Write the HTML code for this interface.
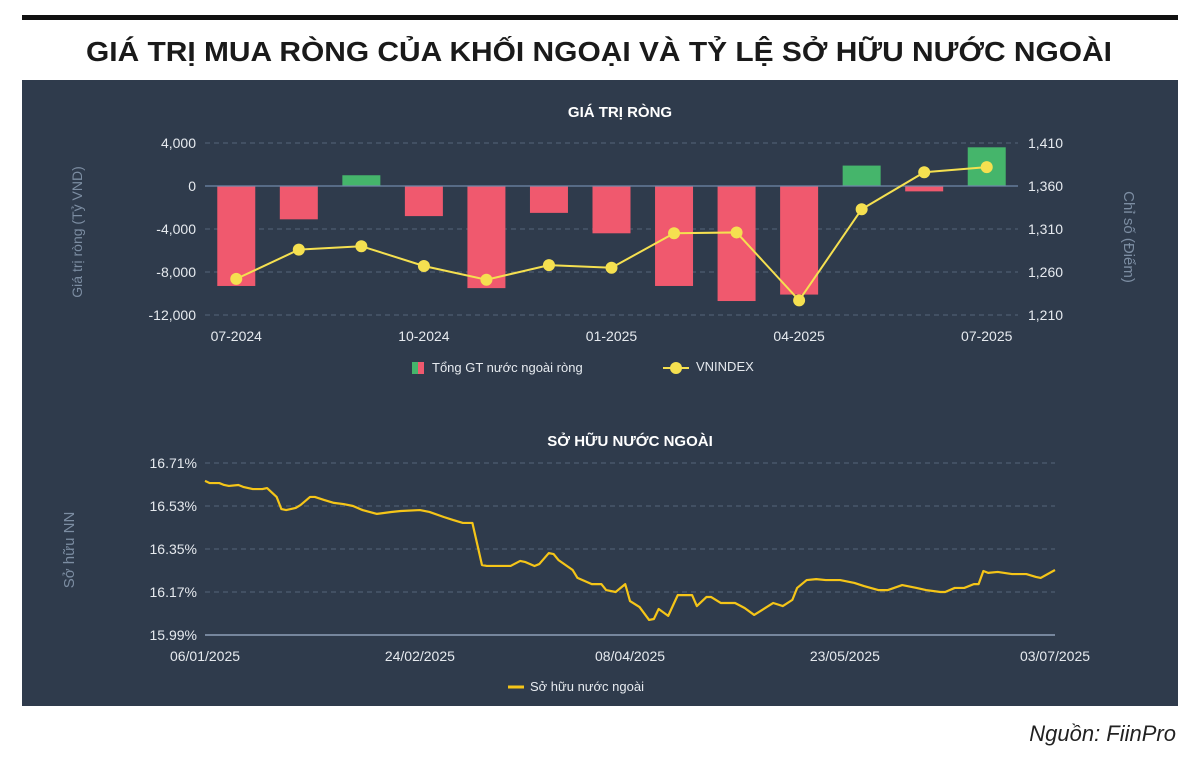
<!DOCTYPE html>
<html><head><meta charset="utf-8"><style>
html,body{margin:0;padding:0;background:#fff;}
svg{display:block;font-family:"Liberation Sans","DejaVu Sans",sans-serif;}
</style></head><body>
<svg id="root" width="1200" height="761" viewBox="0 0 1200 761" xmlns="http://www.w3.org/2000/svg">
<rect x="22" y="15" width="1156" height="5" fill="#111"/>
<text x="599" y="61" text-anchor="middle" font-size="28" font-weight="bold" fill="#1a1a1a" textLength="1026" lengthAdjust="spacingAndGlyphs">GIÁ TRỊ MUA RÒNG CỦA KHỐI NGOẠI VÀ TỶ LỆ SỞ HỮU NƯỚC NGOÀI</text>
<rect x="22" y="80" width="1156" height="626" fill="#2f3b4c"/>
<text x="620" y="117" text-anchor="middle" font-size="15" font-weight="bold" fill="#fff">GIÁ TRỊ RÒNG</text>
<text x="0" y="0" transform="translate(82,232) rotate(-90)" text-anchor="middle" font-size="14" fill="#7c8da2">Giá trị ròng (Tỷ VND)</text>
<text x="0" y="0" transform="translate(1124,237) rotate(90)" text-anchor="middle" font-size="15" fill="#7c8da2">Chỉ số (Điểm)</text>
<g id="topG"></g>
<g>
<rect x="412" y="362" width="6" height="12" fill="#45b56b"/>
<rect x="418" y="362" width="6" height="12" fill="#f0596e"/>
<text x="432" y="372" font-size="13" fill="#e6eaef">Tổng GT nước ngoài ròng</text>
<line x1="663" y1="368" x2="689" y2="368" stroke="#f5e050" stroke-width="2"/>
<circle cx="676" cy="368" r="6" fill="#f5e050"/>
<text x="696" y="371" font-size="13" fill="#e6eaef">VNINDEX</text>
</g>
<text x="630" y="446" text-anchor="middle" font-size="15" font-weight="bold" fill="#fff">SỞ HỮU NƯỚC NGOÀI</text>
<text x="0" y="0" transform="translate(74,550) rotate(-90)" text-anchor="middle" font-size="15" fill="#7c8da2">Sở hữu NN</text>
<g id="botG"></g>
<g>
<line x1="508" y1="687" x2="524" y2="687" stroke="#f5c518" stroke-width="3"/>
<text x="530" y="691" font-size="13" fill="#e6eaef">Sở hữu nước ngoài</text>
</g>
<text x="1176" y="741" text-anchor="end" font-size="22" font-style="italic" fill="#222">Nguồn: FiinPro</text>
</svg>
<script>
const months = ["07-2024","08-2024","09-2024","10-2024","11-2024","12-2024","01-2025","02-2025","03-2025","04-2025","05-2025","06-2025","07-2025"];
const netValues = [-9300,-3100,1000,-2800,-9500,-2500,-4400,-9300,-10700,-10100,1900,-500,3600];
const vnindex = [1252,1286,1290,1267,1251,1268,1265,1305,1306,1227,1333,1376,1382];
const leftTicks = [4000,0,-4000,-8000,-12000];
const rightTicks = [1410,1360,1310,1260,1210];
const monthLabels = ["07-2024","10-2024","01-2025","04-2025","07-2025"];

const ownDay = [0,1,3,4,5,7,8,10,12,13,15,16,17,19,20,22,23,25,27,29,31,33,36,39,41,45,47,50,52,54,56,58,59,64,66,67,69,70,72,73,74,77,78,81,83,84,86,88,89,91,93,94,95,97,99,102,103,105,106,108,111,113,115,117,119,121,123,124,126,128,130,133,136,138,141,143,146,149,151,154,155,157,159,161,162,163,164,166,169,172,174,175,178];
const ownVal = [16.635,16.626,16.626,16.618,16.614,16.618,16.610,16.601,16.601,16.605,16.568,16.517,16.513,16.522,16.534,16.568,16.568,16.555,16.543,16.538,16.530,16.513,16.497,16.505,16.509,16.513,16.505,16.484,16.471,16.459,16.459,16.283,16.279,16.279,16.300,16.296,16.279,16.287,16.333,16.329,16.304,16.262,16.229,16.203,16.203,16.178,16.170,16.203,16.132,16.107,16.053,16.057,16.099,16.070,16.157,16.157,16.111,16.149,16.149,16.124,16.124,16.103,16.074,16.099,16.124,16.111,16.137,16.187,16.220,16.224,16.220,16.220,16.208,16.195,16.178,16.178,16.199,16.187,16.178,16.170,16.170,16.187,16.187,16.203,16.203,16.258,16.250,16.254,16.245,16.245,16.233,16.229,16.262];
const ownTicks = [16.71,16.53,16.35,16.17,15.99];
const dateLabels = ["06/01/2025","24/02/2025","08/04/2025","23/05/2025","03/07/2025"];
const dateLabelDays = [0,45,89,134,178];

const NS="http://www.w3.org/2000/svg";
function mk(tag, attrs, parent){const e=document.createElementNS(NS,tag);for(const k in attrs)e.setAttribute(k,attrs[k]);parent.appendChild(e);return e;}

const topG=document.getElementById('topG');
const X0=205,X1=1018;
const step=(X1-X0)/months.length;
const xBand=i=>X0+step*(i+0.5);
const yL=v=>186-(v/4000)*43;
const yR=v=>315-((v-1210)/50)*43;

leftTicks.forEach(t=>{
  const y=yL(t);
  if(t!==0){const g=mk('line',{x1:X0,x2:X1,y1:y,y2:y,stroke:'#56657a','stroke-dasharray':'5,4'},topG);
  
  }
  const tx=mk('text',{x:196,y:y+5,'text-anchor':'end','font-size':14,fill:'#e6eaef'},topG);tx.textContent=t.toLocaleString('en-US');
  
  
});
rightTicks.forEach(t=>{
  const tx=mk('text',{x:1028,y:yR(t)+5,'font-size':14,fill:'#e6eaef'},topG);tx.textContent=t.toLocaleString('en-US');
  
  
});
netValues.forEach((v,i)=>{
  const y0=yL(0),y1=yL(v);
  const r=mk('rect',{x:xBand(i)-19,y:Math.min(y0,y1),width:38,height:Math.abs(y1-y0),fill:v>=0?'#45b56b':'#f0596e'},topG);
  
  
});
const zl=mk('line',{x1:X0,x2:X1,y1:yL(0),y2:yL(0),stroke:'#6f88a8','stroke-width':1.2},topG);


const pl=mk('polyline',{points:vnindex.map((v,i)=>xBand(i)+','+yR(v)).join(' '),fill:'none',stroke:'#f5e050','stroke-width':2},topG);


vnindex.forEach((v,i)=>{
  const c=mk('circle',{cx:xBand(i),cy:yR(v),r:6,fill:'#f5e050'},topG);
  
  
});
monthLabels.forEach(m=>{
  const i=months.indexOf(m);
  const tx=mk('text',{x:xBand(i),y:341,'text-anchor':'middle','font-size':14,fill:'#e6eaef'},topG);tx.textContent=m;
  
  
});

const botG=document.getElementById('botG');
const BX0=205,BX1=1055;
const xD=d=>BX0+(d/178)*(BX1-BX0);
const yO=v=>635-((v-15.99)/0.18)*43;
ownTicks.forEach(t=>{
  const y=yO(t);
  const last=t===15.99;
  const g=mk('line',{x1:BX0,x2:BX1,y1:y,y2:y,stroke:last?'#8ea0b8':'#56657a','stroke-width':last?1.5:1,'stroke-dasharray':last?'none':'5,4'},botG);
  
  
  const tx=mk('text',{x:197,y:y+5,'text-anchor':'end','font-size':14,fill:'#e6eaef'},botG);tx.textContent=t.toFixed(2)+'%';
  
  
});
const ol=mk('polyline',{points:ownDay.map((d,i)=>xD(d)+','+yO(ownVal[i])).join(' '),fill:'none',stroke:'#f5c518','stroke-width':2.2,'stroke-linejoin':'round'},botG);


dateLabels.forEach((l,i)=>{
  const tx=mk('text',{x:xD(dateLabelDays[i]),y:661,'text-anchor':'middle','font-size':14,fill:'#e6eaef'},botG);tx.textContent=l;
  
  
});
</script>
</body></html>
